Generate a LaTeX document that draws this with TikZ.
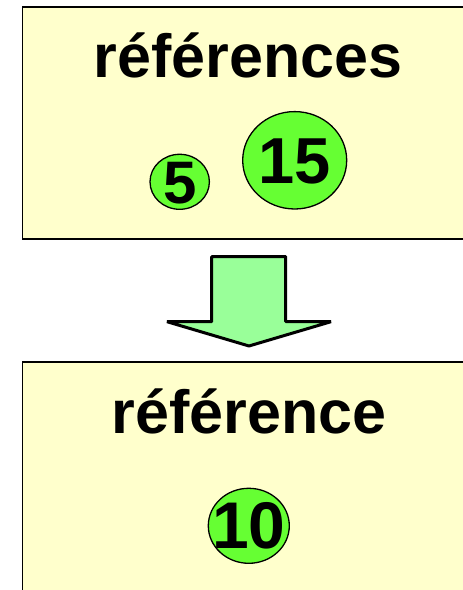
\documentclass[tikz,border=0pt]{standalone}
\usepackage{fontspec}
\setmainfont{Liberation Sans}
\usetikzlibrary{shapes.geometric}
\definecolor{boxfill}{HTML}{FFFFCC}
\definecolor{ballfill}{HTML}{66FF33}
\definecolor{arrowfill}{HTML}{99FF99}
\tikzset{
  panel/.style={draw=black, line width=1.8pt, fill=boxfill},
  title/.style={anchor=base, inner sep=0pt, font=\fontsize{61}{70}\selectfont\bfseries},
  ball/.style={ellipse, draw=black, line width=1.3pt, fill=ballfill, inner sep=0pt},
  num/.style={inner sep=0pt},
  blockarrow/.style={draw=black, line width=3pt, fill=arrowfill, line join=bevel}
}
\begin{document}
\begin{tikzpicture}[x=1pt,y=1pt]
\useasboundingbox (0,0) rectangle (463,590);
\begin{scope}
\clip (0,0) rectangle (463,590);
\draw[panel] (22.5,583.3) rectangle (480,350.7);
\draw[panel] (22.5,228) rectangle (480,-20);
\end{scope}
\node[title] (t1) at (248,512) {références};
\node[ball, minimum width=59.4pt, minimum height=55pt] (b5) at (179.7,408.2) {};
\node[num, font=\fontsize{60}{70}\selectfont\bfseries] (n5) at ([yshift=-1.5pt]b5.center) {5};
\node[ball, minimum width=104pt, minimum height=97.4pt] (b15) at (294.7,429.7) {};
\node[num, font=\fontsize{65}{70}\selectfont\bfseries] (n15) at ([yshift=-1pt]b15.center) {15};
\draw[blockarrow] (211.7,333.3) -- (285.7,333.3) -- (285.7,268.3) -- (331,268.3) -- (249,244) -- (167,268.3) -- (211.7,268.3) -- cycle;
\node[title] (t2) at (249,156.7) {référence};
\node[ball, minimum width=81pt, minimum height=75pt] (b10) at (248.8,64.2) {};
\node[num, font=\fontsize{66}{70}\selectfont\bfseries] (n10) at (b10.center) {10};
\end{tikzpicture}
\end{document}
